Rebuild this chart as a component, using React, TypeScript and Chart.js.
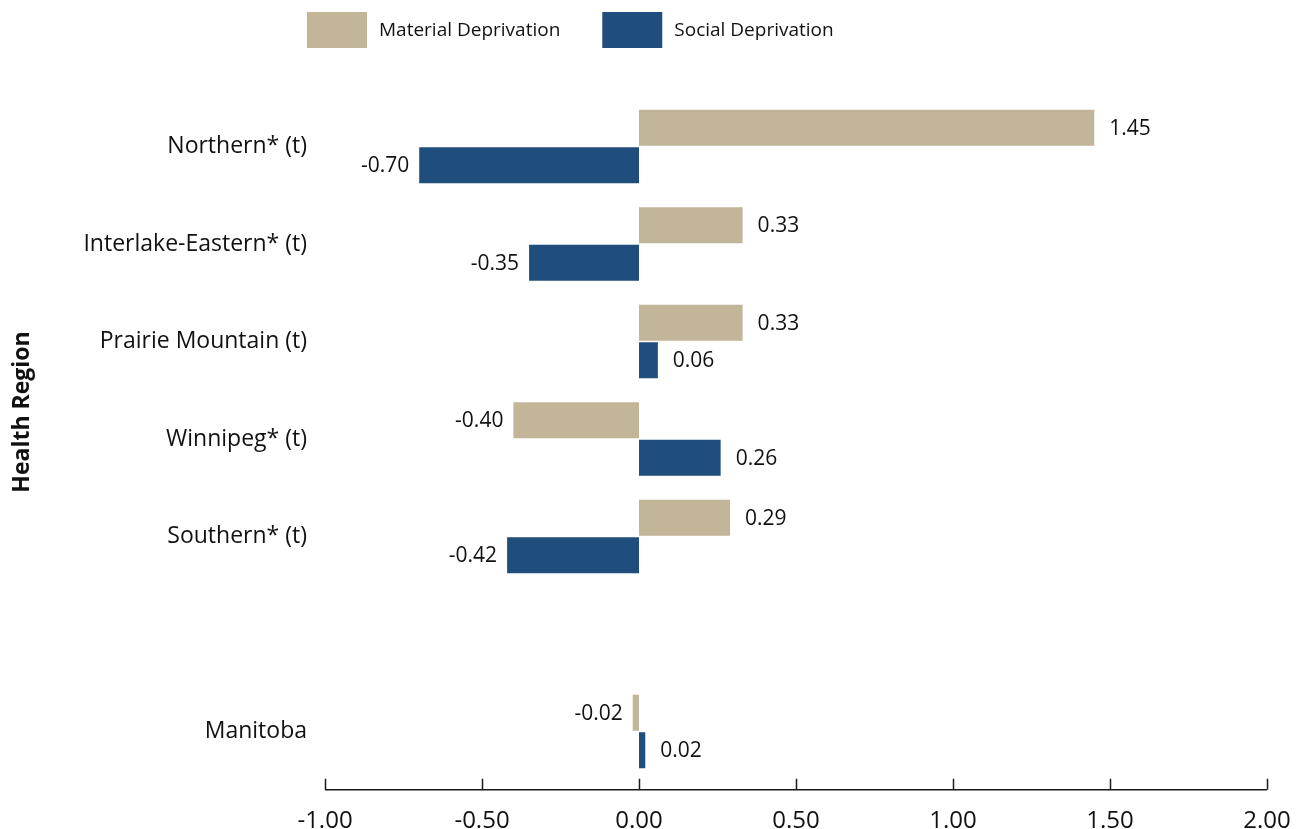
import { useEffect, useRef } from "react";
import { Chart, registerables } from "chart.js";

Chart.register(...registerables);

// Health regions, top to bottom; the blank entry separates the provincial total.
const regions = [
  "Northern* (t)",
  "Interlake-Eastern* (t)",
  "Prairie Mountain (t)",
  "Winnipeg* (t)",
  "Southern* (t)",
  "",
  "Manitoba",
];
const materialDeprivation = [1.45, 0.33, 0.33, -0.4, 0.29, null, -0.02];
const socialDeprivation = [-0.7, -0.35, 0.06, 0.26, -0.42, null, 0.02];
const xTickValues = [-1, -0.5, 0, 0.5, 1, 1.5, 2];
const seriesNames = ["Material Deprivation", "Social Deprivation"];
const seriesColors = ["#C3B597", "#1F4D7C"];
const axisTitle = "Health Region";

const FONT = "'Open Sans', 'Noto Sans', sans-serif";
const TEXT = "#111111";

// Value labels beside each bar end.
const valueLabels = {
  id: "valueLabels",
  afterDatasetsDraw(chart: any) {
    const { ctx } = chart;
    ctx.save();
    ctx.fillStyle = TEXT;
    ctx.textBaseline = "middle";
    ctx.font = `21px ${FONT}`;
    chart.data.datasets.forEach((ds: any, di: number) => {
      const meta = chart.getDatasetMeta(di);
      meta.data.forEach((el: any, i: number) => {
        const v = ds.data[i];
        if (v === null || v === undefined) return;
        const txt = v.toFixed(2);
        if (v >= 0) {
          ctx.textAlign = "left";
          ctx.fillText(txt, el.x + 15, el.y + 1);
        } else {
          ctx.textAlign = "right";
          ctx.fillText(txt, el.x - 10, el.y + 1);
        }
      });
    });
    ctx.restore();
  },
};

// Legend row, axis baseline with inward ticks, and rotated axis title.
const decorations = {
  id: "decorations",
  afterDraw(chart: any) {
    const { ctx, chartArea } = chart;
    const xs = chart.scales.x;
    ctx.save();

    // baseline and tick marks
    const yLine = chartArea.bottom + 9.5;
    ctx.strokeStyle = "#1a1a1a";
    ctx.lineWidth = 1.5;
    ctx.beginPath();
    ctx.moveTo(xs.getPixelForValue(xTickValues[0]), yLine);
    ctx.lineTo(xs.getPixelForValue(xTickValues[xTickValues.length - 1]), yLine);
    ctx.stroke();
    xTickValues.forEach((v) => {
      const px = Math.round(xs.getPixelForValue(v)) + 0.5;
      ctx.beginPath();
      ctx.moveTo(px, yLine);
      ctx.lineTo(px, yLine - 11);
      ctx.stroke();
    });

    // legend
    ctx.font = `19px ${FONT}`;
    ctx.textBaseline = "middle";
    ctx.textAlign = "left";
    let x = 307;
    seriesNames.forEach((name, i) => {
      ctx.fillStyle = seriesColors[i];
      ctx.fillRect(x, 12, 60, 36);
      ctx.fillStyle = TEXT;
      ctx.fillText(name, x + 72, 31);
      x += 72 + ctx.measureText(name).width + 42;
    });

    // axis title
    ctx.translate(22, 412);
    ctx.rotate(-Math.PI / 2);
    ctx.font = `bold 23px ${FONT}`;
    ctx.textAlign = "center";
    ctx.textBaseline = "middle";
    ctx.fillStyle = TEXT;
    ctx.fillText(axisTitle, 0, 0);
    ctx.restore();
  },
};

export default function App() {
  const canvasRef = useRef<HTMLCanvasElement>(null);

  useEffect(() => {
    if (!canvasRef.current) return;
    const chart = new Chart(canvasRef.current, {
      type: "bar",
      data: {
        labels: regions,
        datasets: [
          {
            label: seriesNames[0],
            data: materialDeprivation,
            backgroundColor: seriesColors[0],
            categoryPercentage: 0.77,
            barPercentage: 0.96,
          },
          {
            label: seriesNames[1],
            data: socialDeprivation,
            backgroundColor: seriesColors[1],
            categoryPercentage: 0.77,
            barPercentage: 0.96,
          },
        ],
      },
      options: {
        indexAxis: "y",
        responsive: false,
        animation: false,
        layout: { padding: { top: 97.75, right: 30, left: 0, bottom: 0 } },
        plugins: {
          legend: { display: false },
          tooltip: { enabled: false },
        },
        scales: {
          x: {
            type: "linear",
            min: -1,
            max: 2,
            afterBuildTicks: (scale: any) => {
              scale.ticks = xTickValues.map((v) => ({ value: v }));
            },
            afterFit: (scale: any) => {
              scale.height = 48.75;
              scale.paddingLeft = 0;
              scale.paddingRight = 0;
            },
            grid: { display: false, drawTicks: false },
            border: { display: false },
            ticks: {
              autoSkip: false,
              maxRotation: 0,
              padding: 27,
              color: TEXT,
              font: { family: FONT, size: 24 },
              callback: (v: any) => Number(v).toFixed(2),
            },
          },
          y: {
            type: "category",
            afterFit: (scale: any) => {
              scale.width = 325;
            },
            grid: { display: false, drawTicks: false },
            border: { display: false },
            ticks: {
              autoSkip: false,
              padding: 18,
              color: TEXT,
              font: { family: FONT, size: 23 },
            },
          },
        },
      },
      plugins: [valueLabels, decorations],
    });
    return () => chart.destroy();
  }, []);

  return (
    <div style={{ position: "fixed", left: 0, top: 0, width: 1297, height: 829, background: "#fff" }}>
      <canvas ref={canvasRef} width={1297} height={829} style={{ display: "block" }} />
    </div>
  );
}
